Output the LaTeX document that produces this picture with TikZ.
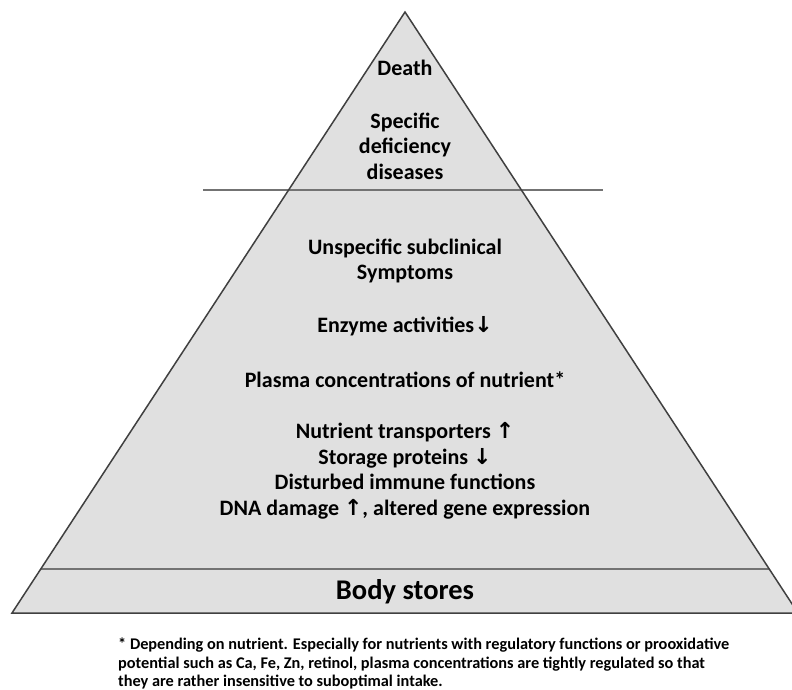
\documentclass[tikz,border=0pt]{standalone}
\usepackage{fontspec}
\setmainfont{Carlito}
\newfontfamily\arrowfont{DejaVu Sans}
\usetikzlibrary{positioning, calc}
\newcommand{\up}{{\arrowfont\char"2191}}
\newcommand{\down}{{\arrowfont\char"2193}}

\begin{document}
\begin{tikzpicture}[
    x=1pt, y=-1pt,
    level/.style={align=center, font=\fontsize{22}{25.5}\selectfont\bfseries, inner sep=0pt},
    note/.style={align=left, anchor=north west, font=\fontsize{16.3}{18.5}\selectfont\bfseries, inner sep=0pt},
    edge/.style={draw=black!75, line width=1.5pt},
    divider/.style={draw=black!55, line width=2pt}
]
\useasboundingbox (0,0) rectangle (792,690);
\begin{scope}
\clip (0,0) rectangle (792,690);
% pyramid
\coordinate (top) at (405,12);
\coordinate (bl) at (12,613);
\coordinate (br) at (798,613);
\fill[black!12] (top) -- (bl) -- (br) -- cycle;
\coordinate (cutl) at (203,190);
\coordinate (cutr) at (603,190);
\coordinate (storel) at ($(top)!0.9268!(bl)$);
\coordinate (storer) at ($(top)!0.9268!(br)$);
\draw[divider] (cutl) -- (cutr);
\draw[divider] (storel) -- (storer);
\draw[edge, line join=miter] (top) -- (bl) -- (br) -- cycle;
\end{scope}

\node[level] (death) at (405,68) {Death};
\node[level] (specific) at (405,146) {Specific\\deficiency\\diseases};
\node[level] (symptoms) at (405,261) {Unspecific subclinical\\Symptoms};
\node[level] (enzyme) at (405,326) {Enzyme activities\down};
\node[level] (plasma) at (405,380) {Plasma concentrations of nutrient*};
\node[level] (markers) at (405,471) {Nutrient transporters \up\\Storage proteins \down\\Disturbed immune functions\\DNA damage \up, altered gene expression};
\node[level, font=\fontsize{28.5}{32}\selectfont\bfseries] (stores) at (405,592) {Body stores};

\node[note] (footnote) at (118,638) {* Depending on nutrient. Especially for nutrients with regulatory functions or prooxidative\\potential such as Ca, Fe, Zn, retinol, plasma concentrations are tightly regulated so that\\they are rather insensitive to suboptimal intake.};
\end{tikzpicture}
\end{document}
